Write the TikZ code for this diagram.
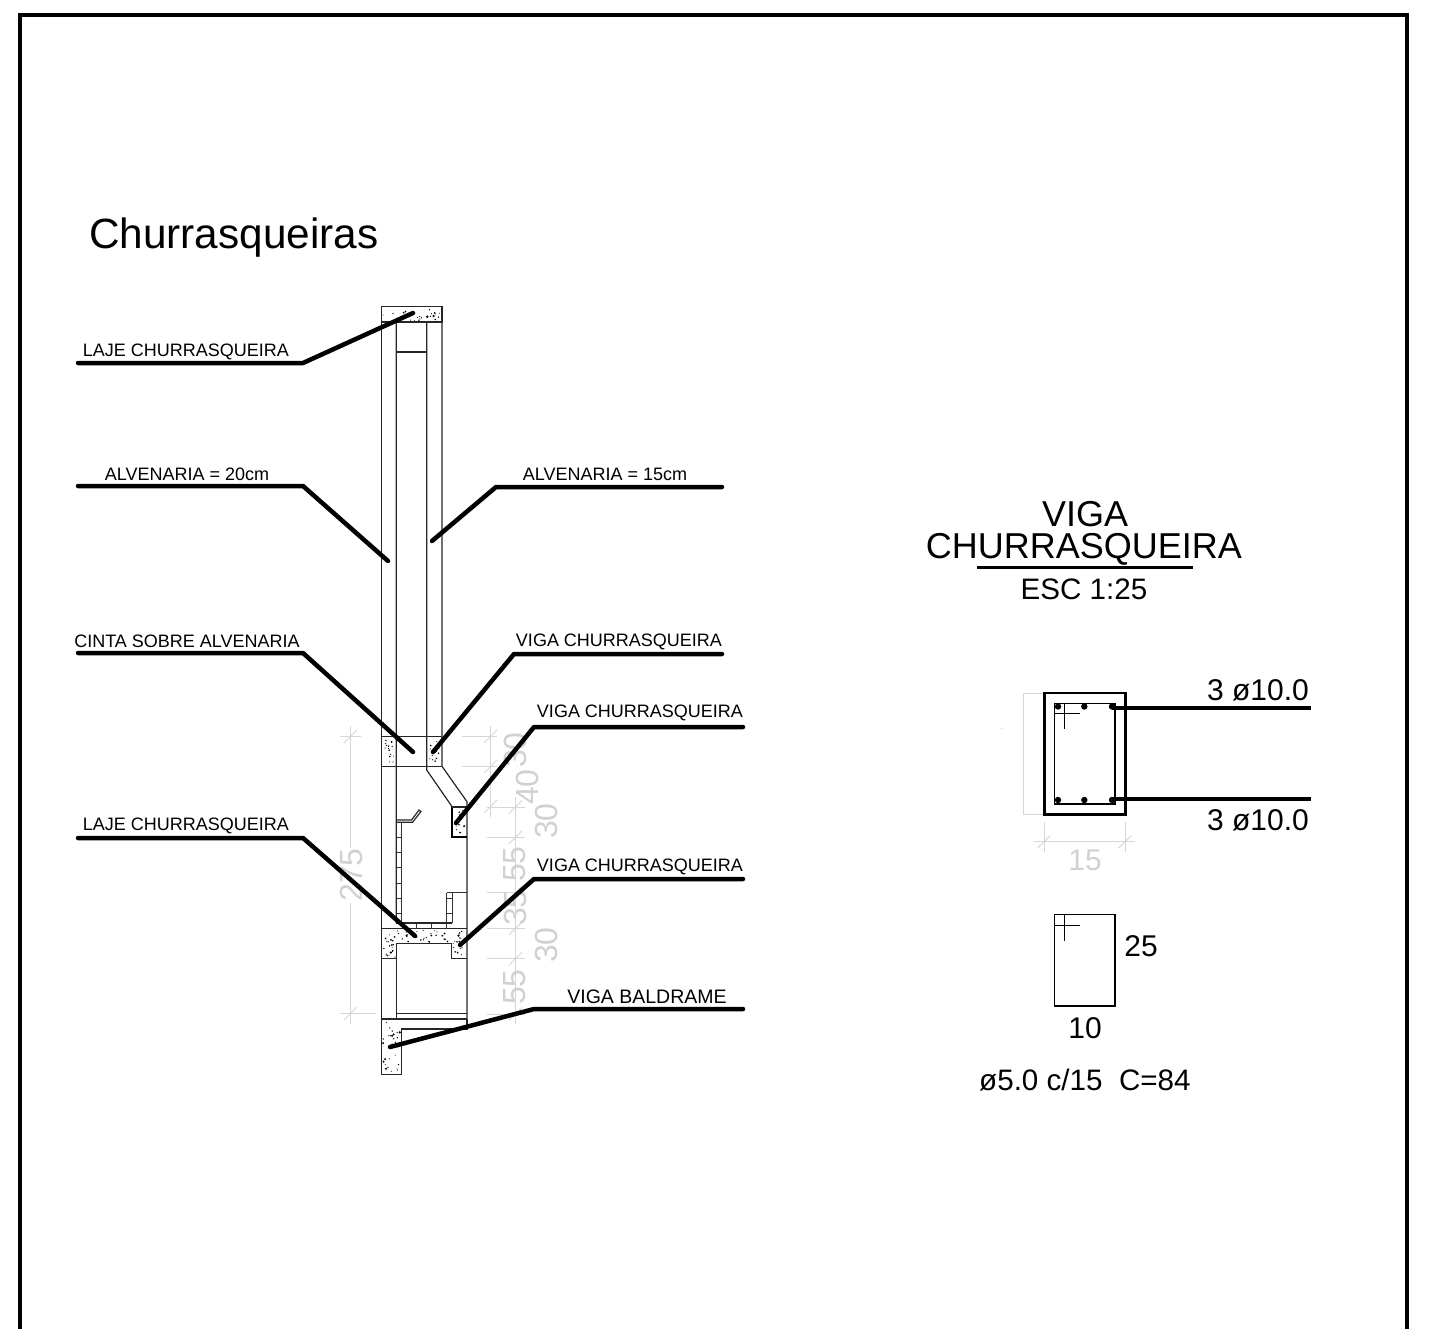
\documentclass[tikz,border=0pt]{standalone}
\usepackage{fontspec}
\setmainfont{Liberation Sans}
\newcommand{\speck}[5]{%
  \foreach \iter in {1,...,#5}{%
    \pgfmathsetmacro{\sx}{#1+(#3-#1)*rnd}%
    \pgfmathsetmacro{\sy}{#2+(#4-#2)*rnd}%
    \pgfmathsetmacro{\sr}{0.5+0.9*rnd*rnd}%
    \fill[black] (\sx,\sy) circle[radius=\sr];
  }}
\tikzset{
  frameline/.style={line width=4pt,black},
  wall/.style={line width=1.2pt,draw=black!85},
  thin wall/.style={line width=0.9pt,draw=black!80},
  leader/.style={line width=4.5pt,black,line cap=round,line join=round},
  dimline/.style={line width=1pt,draw=black!16},
  dimtext/.style={text=black!18,font=\fontsize{32}{32}\selectfont,inner sep=0pt},
  lbl/.style={font=\fontsize{18}{18}\selectfont,inner sep=0pt,text=black},
  biglbl/.style={font=\fontsize{30}{30}\selectfont,inner sep=0pt,text=black},
  rebar/.style={fill=black,draw=none},
}
\begin{document}
\begin{tikzpicture}[x=1pt,y=-1pt]
\useasboundingbox (0,0) rectangle (1453,1328);
% frame
\draw[frameline] (20,1330) -- (20,15) -- (1407,15) -- (1407,1330);
\node[anchor=west,inner sep=0pt,font=\fontsize{42.3}{42.3}\selectfont] (title) at (89,238) {Churrasqueiras};

% concrete speckle
\pgfmathsetseed{4217}
\speck{383}{309}{440}{321}{26}
\speck{384}{740}{394}{764}{14}
\speck{429}{740}{440}{764}{14}
\speck{454}{809}{466}{835}{10}
\speck{383}{930}{465}{942}{46}
\speck{383}{943}{396}{957}{14}
\speck{453}{943}{466}{957}{10}
\speck{383}{1022}{400}{1072}{30}

% dimension lines (grey, behind the drawing)
\draw[dimline] (350.7,726) -- (350.7,848) (350.7,903) -- (350.7,1024);
\draw[dimline] (340,736.7) -- (361,736.7) (340,1013.5) -- (376,1013.5);
\draw[dimline] (344,743) -- (357,730) (344,1020) -- (357,1007);
\draw[dimline] (490.7,726) -- (490.7,817);
\draw[dimline] (462,736.7) -- (497,736.7) (462,766.3) -- (497,766.3) (487,807) -- (497,807);
\draw[dimline] (484,743) -- (497,730) (484,773) -- (497,760) (484,813) -- (497,800);
\draw[dimline] (515.5,797) -- (515.5,1024);
\draw[dimline] (487,807) -- (525,807) (487,837.3) -- (525,837.3) (487,892.7) -- (525,892.7) (487,928.3) -- (525,928.3) (487,958.7) -- (525,958.7) (487,1014) -- (525,1014);
\foreach \yy in {807,837.3,892.7,928.3,958.7,1014}{\draw[dimline] (509,\yy+6.5) -- (522,\yy-6.5);}
\node[dimtext,rotate=90] (d275) at (351,875) {275};
\node[dimtext,rotate=90] (d30a) at (515,750) {30};
\node[dimtext,rotate=90] (d40) at (527,787) {40};
\node[dimtext,rotate=90] (d30b) at (546,821) {30};
\node[dimtext,rotate=90] (d55a) at (515,864) {55};
\node[dimtext,rotate=90] (d35) at (515,908) {35};
\node[dimtext,rotate=90] (d30c) at (546,945) {30};
\node[dimtext,rotate=90] (d55b) at (515,987) {55};

% chimney section
\draw[wall] (396.3,322) -- (396.3,923) (426.7,322) -- (426.7,770) -- (452.3,807);
\draw[wall] (381.3,306.7) rectangle (442,322);
\draw[wall] (396.3,352) -- (426.7,352);
\draw[wall] (381.3,322) -- (381.3,1074.3) -- (401.7,1074.3) -- (401.7,1029) -- (467,1029) -- (467,1019);
\draw[wall] (442,322) -- (442,766.3) -- (467,801.7) -- (467,1019);
\draw[wall] (381.3,736.7) -- (442,736.7) (381.3,766.3) -- (442,766.3);
\draw[line width=1.8pt] (452.3,807) -- (452.3,837.3) -- (467,837.3);
\draw[wall] (452.3,807) -- (467,807);
% hood hook and bricks
\draw[wall] (396.3,820) -- (411.5,820) -- (419,810) -- (421,811.5) -- (412.5,822.3) -- (396.3,822.3);
\draw[thin wall] (401,822.3) -- (401,923);
\foreach \yy in {837.3,852.7,867.7,883,898,913}{\draw[thin wall] (396.3,\yy) -- (401,\yy);}
\draw[thin wall] (446.5,892.7) -- (467,892.7) (446.5,892.7) -- (446.5,923) (452.3,892.7) -- (452.3,923);
\draw[thin wall] (446.5,898) -- (452.3,898) (446.5,913) -- (452.3,913);
\draw[wall] (396.3,923) -- (452.3,923);
\foreach \xx in {416.7,431.7,446.7}{\draw[thin wall] (\xx,923) -- (\xx,928.3);}
% floor slab
\draw[wall] (381.3,928.3) -- (467,928.3);
\draw[wall] (381.3,958.7) -- (396.3,958.7) (396.3,1019) -- (396.3,943.3) -- (451.7,943.3) -- (451.7,958.7) -- (467,958.7);
\draw[wall] (396.3,1013.3) -- (467,1013.3) (381.3,1019) -- (467,1019);

% leaders with their labels
\foreach \nm/\ax/\ay/\bx/\by/\cx/\cy in {
  la/78/363/303/363/413/313,
  lb/78/486/303/486/388/561,
  lc/722/487/496/487/432/541,
  ld/78/653/303/653/413/752,
  le/722/654/514/654/433/752,
  lf/743/727/534/727/456/823,
  lg/78/838/303/838/415/936,
  lh/743/879/534/879/460/945,
  li/743/1009/534/1009/390/1047}{
  \coordinate (\nm a) at (\ax,\ay);
  \coordinate (\nm b) at (\bx,\by);
  \coordinate (\nm c) at (\cx,\cy);
  \draw[leader] (\nm a) -- (\nm b) -- (\nm c);
}
\node[lbl] (ta) at (186,351.5) {LAJE CHURRASQUEIRA};
\node[lbl] (tb) at (187,474.5) {ALVENARIA = 20cm};
\node[lbl] (tc) at (605,474.5) {ALVENARIA = 15cm};
\node[lbl] (td) at (187,641.5) {CINTA SOBRE ALVENARIA};
\node[lbl] (te) at (619,641.5) {VIGA CHURRASQUEIRA};
\node[lbl] (tf) at (640,713) {VIGA CHURRASQUEIRA};
\node[lbl] (tg) at (186,826) {LAJE CHURRASQUEIRA};
\node[lbl] (th) at (640,866.5) {VIGA CHURRASQUEIRA};
\node[lbl,font=\fontsize{19.5}{19.5}\selectfont] (ti) at (647,996.5) {VIGA BALDRAME};

% beam heading
\node[inner sep=0pt,font=\fontsize{36}{36}\selectfont] (h1) at (1085,514) {VIGA};
\node[inner sep=0pt,font=\fontsize{36}{36}\selectfont] (h2) at (1084,549) {CHURRASQUEIRA};
\node[inner sep=0pt,font=\fontsize{29.6}{29.6}\selectfont] (h3) at (1084,589) {ESC 1:25};
\coordinate (ula) at (977,567);
\coordinate (ulb) at (1193,567);
\draw[line width=3pt] (ula) -- (ulb);

% beam section
\draw[dimline] (1044,693) -- (1023.3,693) -- (1023.3,814.7) -- (1044,814.7);
\fill[black!16] (1001.5,728.5) circle[radius=0.7];
\draw[dimline] (1034,841.7) -- (1135,841.7) (1044.3,822) -- (1044.3,852) (1125.3,822) -- (1125.3,852);
\draw[dimline] (1037.5,848) -- (1050.5,835.5) (1118.5,848) -- (1131.5,835.5);
\node[dimtext,font=\fontsize{30}{30}\selectfont] (d15) at (1085,860) {15};
\node[draw,line width=2.8pt,minimum width=81pt,minimum height=121.7pt,inner sep=0pt,outer sep=0pt] (sec) at (1084.8,753.85) {};
\node[draw,line width=1.3pt,minimum width=60.7pt,minimum height=100.7pt,inner sep=0pt,outer sep=0pt] (stir) at (1084.65,753.65) {};
\draw[line width=1pt] (1054.3,713) -- (1080,713) (1064.7,703.3) -- (1064.7,729);
\foreach \xx in {1058,1084.3,1112}{
  \fill[rebar] (\xx,706.5) circle[radius=3.2];
  \fill[rebar] (\xx,800) circle[radius=3.2];
}
\coordinate (ra) at (1112,708);
\coordinate (rb) at (1311,708);
\coordinate (rc) at (1112,799);
\coordinate (rd) at (1311,799);
\draw[line width=3.6pt] (ra) -- (rb);
\draw[line width=3.6pt] (rc) -- (rd);
\node[biglbl,anchor=east] (t3a) at (1309,690) {3 ø10.0};
\node[biglbl,anchor=east] (t3b) at (1309,820) {3 ø10.0};

% stirrup detail
\node[draw,line width=1.2pt,minimum width=60.7pt,minimum height=91.3pt,inner sep=0pt,outer sep=0pt] (det) at (1084.65,960.35) {};
\draw[line width=1pt] (1054.3,925) -- (1080,925) (1064.7,914.7) -- (1064.7,940.7);
\node[biglbl] (t25) at (1141,946) {25};
\node[biglbl] (t10) at (1085,1028) {10};
\node[biglbl,anchor=west,font=\fontsize{29.6}{29.6}\selectfont] (t5) at (979,1080) {ø5.0 c/15\ \ C=84};
\end{tikzpicture}
\end{document}
